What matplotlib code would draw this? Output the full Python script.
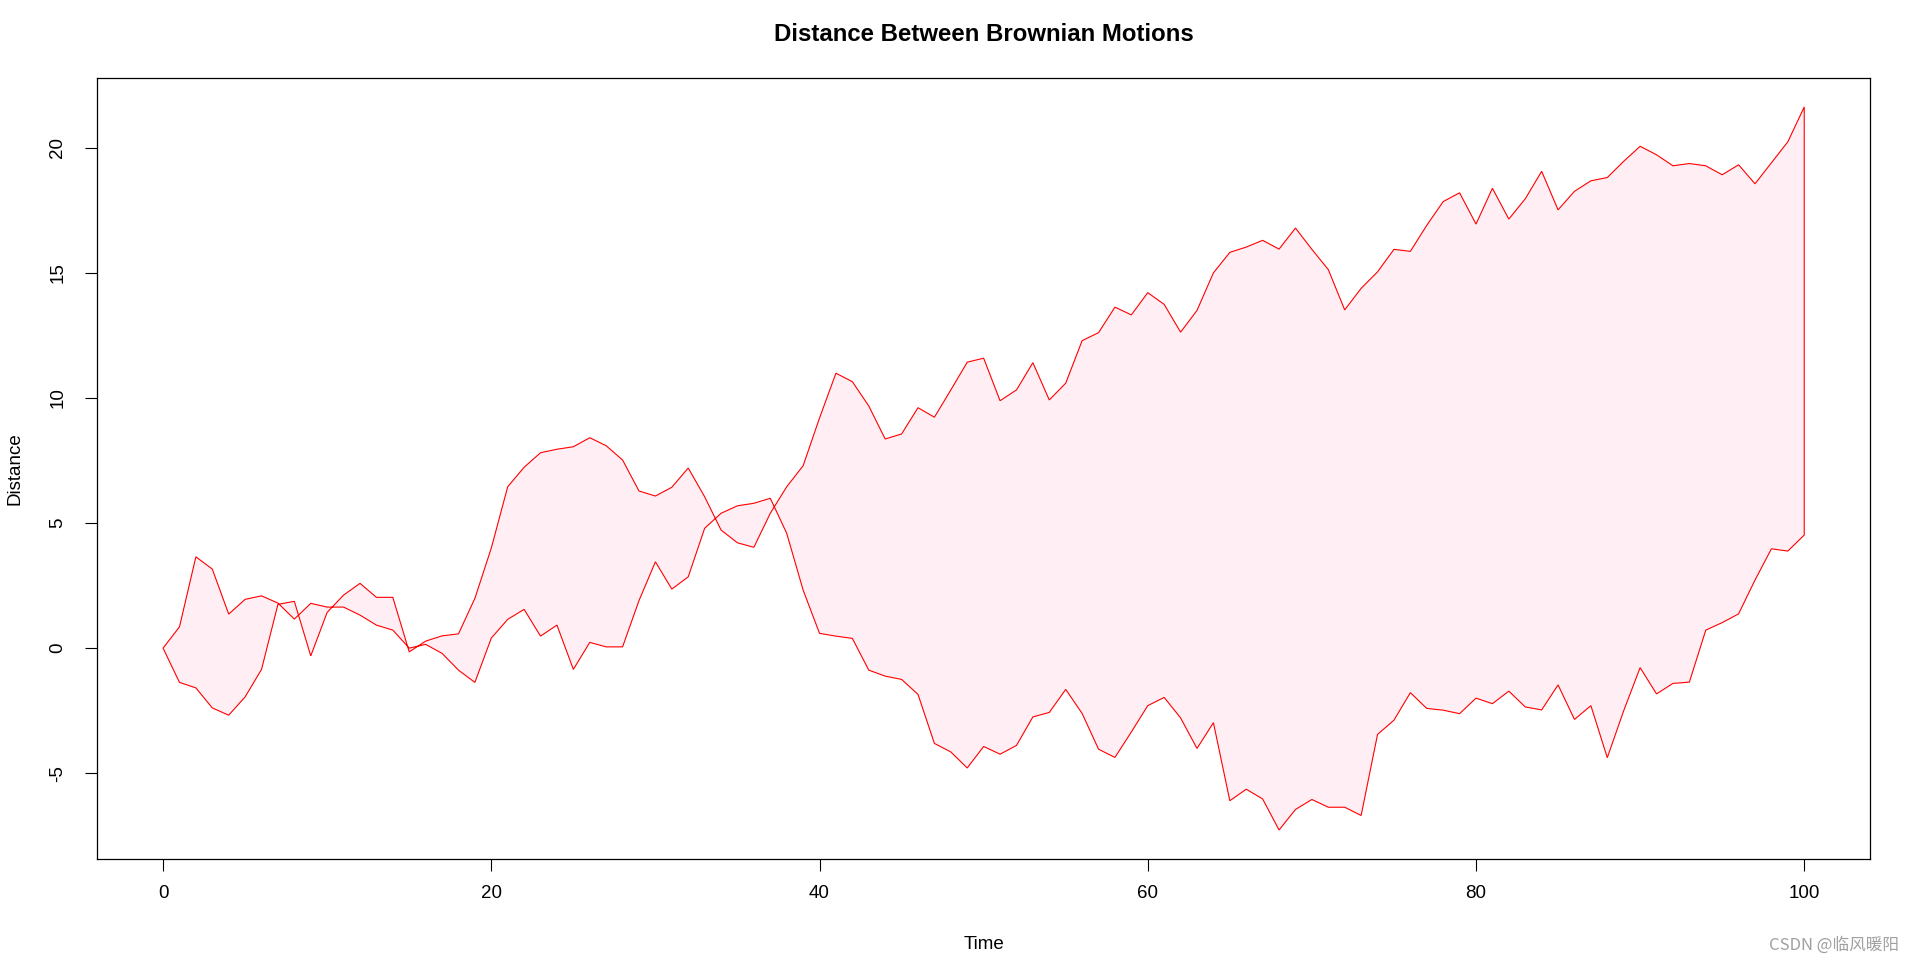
import numpy as np
import matplotlib
matplotlib.use('Agg')
import matplotlib.pyplot as plt

plt.rcParams['font.family'] = ['Liberation Sans', 'DejaVu Sans']

# time steps and the two simulated paths
time = np.arange(0, 101)

path_a = [0, 0.85, 3.65, 3.16, 1.36, 1.95, 2.09, 1.8, 1.16, 1.79,
          1.64, 1.64, 1.32, 0.92, 0.72, 0.0, 0.15, -0.21, -0.88, -1.37,
          0.4, 1.15, 1.55, 0.48, 0.92, -0.85, 0.23, 0.05, 0.05, 1.9,
          3.45, 2.36, 2.85, 4.79, 5.39, 5.69, 5.79, 5.99, 4.59, 2.32,
          0.59, 0.48, 0.39, -0.88, -1.12, -1.25, -1.85, -3.81, -4.15, -4.79,
          -3.93, -4.24, -3.89, -2.75, -2.57, -1.65, -2.61, -4.04, -4.37, -3.35,
          -2.3, -1.97, -2.79, -4.01, -2.98, -6.1, -5.64, -6.03, -7.27, -6.45,
          -6.05, -6.36, -6.36, -6.69, -3.45, -2.88, -1.78, -2.41, -2.48, -2.62,
          -2.0, -2.22, -1.72, -2.35, -2.47, -1.47, -2.85, -2.3, -4.38, -2.5,
          -0.78, -1.83, -1.41, -1.36, 0.72, 1.02, 1.37, 2.72, 3.97, 3.88,
          4.52]

path_b = [0, -1.37, -1.59, -2.39, -2.68, -1.95, -0.85, 1.75, 1.87, -0.31,
          1.43, 2.12, 2.59, 2.03, 2.03, -0.15, 0.28, 0.49, 0.57, 1.99,
          4.0, 6.45, 7.23, 7.81, 7.95, 8.05, 8.41, 8.09, 7.52, 6.28,
          6.08, 6.43, 7.2, 6.05, 4.72, 4.21, 4.03, 5.39, 6.45, 7.29,
          9.2, 10.99, 10.65, 9.68, 8.36, 8.56, 9.61, 9.23, 10.32, 11.43,
          11.59, 9.89, 10.32, 11.41, 9.92, 10.59, 12.29, 12.61, 13.63, 13.32,
          14.21, 13.74, 12.63, 13.5, 15.0, 15.82, 16.03, 16.3, 15.95, 16.79,
          15.94, 15.13, 13.52, 14.38, 15.04, 15.94, 15.86, 16.9, 17.85, 18.2,
          16.95, 18.38, 17.15, 17.96, 19.06, 17.52, 18.26, 18.68, 18.81, 19.46,
          20.06, 19.72, 19.28, 19.37, 19.28, 18.92, 19.32, 18.56, 19.4, 20.24,
          21.63]

x_ticks = [0, 20, 40, 60, 80, 100]
y_ticks = [-5, 0, 5, 10, 15, 20]

fig = plt.figure(figsize=(19.1, 9.64), dpi=100)
ax = fig.add_axes([0.051, 0.109, 0.928, 0.81])

poly_x = np.concatenate([time, time[::-1]])
poly_y = np.concatenate([np.array(path_a), np.array(path_b)[::-1]])
ax.fill(poly_x, poly_y, facecolor='#FFEFF4', edgecolor='red', linewidth=0.8)

# R-like 4% padding
ax.margins(x=0.04, y=0.04)

ax.set_xticks(x_ticks)
ax.set_yticks(y_ticks)
ax.set_yticklabels([str(v) for v in y_ticks], rotation=90, va='center')
ax.tick_params(axis='both', labelsize=13.5, length=8.5, width=0.8, direction='out')
ax.tick_params(axis='x', pad=10)
ax.tick_params(axis='y', pad=14)
for sp in ax.spines.values():
    sp.set_linewidth(0.9)

ax.set_title("Distance Between Brownian Motions", fontsize=17.3, fontweight='bold', pad=27)
ax.set_xlabel("Time", fontsize=13.5)
ax.xaxis.set_label_coords(0.5, -0.109)
ax.xaxis.label.set_va('center')
ax.set_ylabel("Distance", fontsize=13.5)
ax.yaxis.set_label_coords(-0.0465, 0.5)
ax.yaxis.label.set_va('center')

fig.text(0.994, 0.02, "CSDN @临风暖阳", ha='right', va='center', fontsize=12,
         color='#a0a0a0', family=['Noto Sans CJK SC', 'DejaVu Sans'])

fig.savefig('out.png', dpi=100)
